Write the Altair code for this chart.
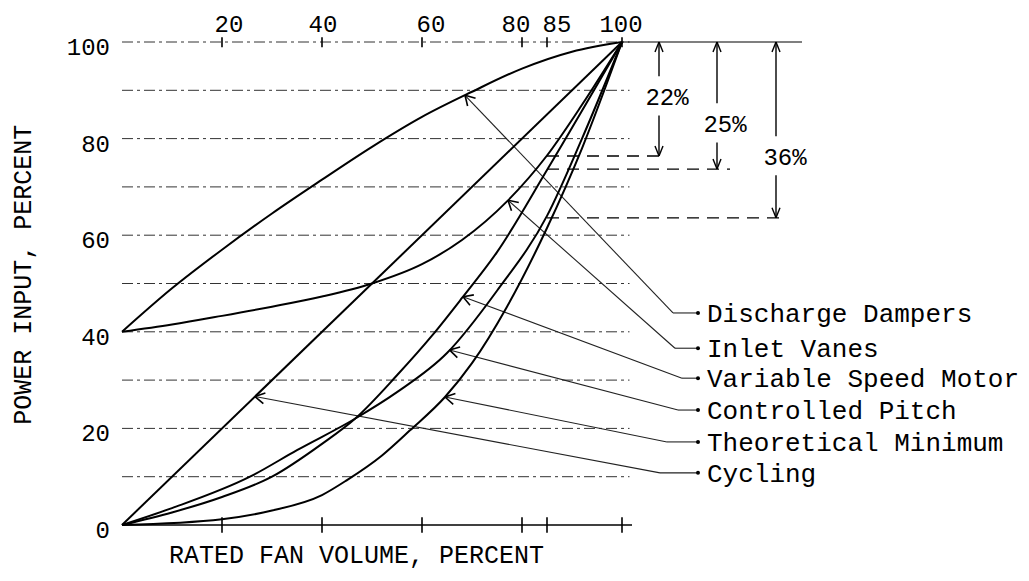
import math
import numpy as np
import pandas as pd
import altair as alt

# ---------------- data ----------------
series_names = ["Discharge Dampers", "Inlet Vanes", "Variable Speed Motor",
                "Controlled Pitch", "Theoretical Minimum", "Cycling"]

dd_x = [0, 10, 20, 30, 40, 50, 60, 70, 80, 90, 100]
dd_y = [40, 49, 57, 64.5, 71.5, 78.3, 84.5, 89.7, 94.5, 98, 100]

iv_x = [0, 10, 20, 30, 40, 50, 60, 68, 77, 85, 92, 100]
iv_y = [40, 41.5, 43.3, 45.2, 47.3, 50, 54, 59, 67, 76.5, 87, 100]

vs_x = [0, 10, 20, 30, 40, 46.6, 55, 62, 68, 75, 85, 100]
vs_y = [0, 2.6, 5.8, 10, 16.8, 22, 31, 39.2, 47, 56.5, 73.5, 100]

cp_x = [0, 10, 25.6, 35, 46.6, 55, 65, 75, 85, 92, 100]
cp_y = [0, 3.5, 10, 15.5, 22, 27.5, 35.6, 48.5, 64, 80, 100]

tm_x = [0, 20, 30, 40, 45, 52, 57.6, 64.6, 70, 77, 85, 92, 100]
tm_y = [0, 1.2, 3, 6.2, 9.3, 14.4, 19.6, 26.5, 33.5, 45.2, 61.5, 78, 100]

cy_x = [0, 100]
cy_y = [0, 100]

curves_x = [dd_x, iv_x, vs_x, cp_x, tm_x, cy_x]
curves_y = [dd_y, iv_y, vs_y, cp_y, tm_y, cy_y]

# arrow tips (x on each curve) and label rows
arrow_x = [68.6, 77.2, 68.2, 65.5, 64.6, 26.6]
label_y = [43.9, 36.6, 30.4, 23.8, 17.2, 10.8]
elbow_x = [110.2, 110.6, 112.0, 111.2, 109.0, 107.6]

x_ticks = [20, 40, 60, 80, 85, 100]
x_tick_shift_px = [7, 1, 9, -6, 10, -1]
y_ticks = [0, 20, 40, 60, 80, 100]
grid_vals = [10, 20, 30, 40, 50, 60, 70, 80, 90, 100]

pct_text = ["22%", "25%", "36%"]
pct_level = [76.4, 73.7, 63.6]
pct_line_x = [107.4, 119.0, 130.8]
pct_dash_end = [107.4, 121.6, 132.6]
pct_text_x = [109.0, 120.6, 132.6]
pct_text_y = [88.4, 82.8, 76.0]

# ---------------- geometry of the page ----------------
W, H = 1013, 565
X0, SX = 122, 5.0      # page px of x=0, px per unit
Y0, SY = 525, 4.83     # page px of y=0, px per unit
xdom = [(8 - X0) / SX, (8 + W - X0) / SX]
ydom = [(Y0 - (8 + H)) / SY, (Y0 - 8) / SY]
xs = alt.Scale(domain=xdom, nice=False, zero=False)
ys = alt.Scale(domain=ydom, nice=False, zero=False)
FONT = "Liberation Mono"

X = lambda f="x": alt.X(f"{f}:Q", scale=xs, axis=None)
Y = lambda f="y": alt.Y(f"{f}:Q", scale=ys, axis=None)

# curves
rows = []
for name, cx, cy in zip(series_names, curves_x, curves_y):
    for i, (a, b) in enumerate(zip(cx, cy)):
        rows.append({"series": name, "i": i, "x": a, "y": b})
curves_df = pd.DataFrame(rows)
curves = alt.Chart(curves_df).mark_line(
    interpolate="monotone", color="black", strokeWidth=2
).encode(x=X(), y=Y(), detail="series:N", order="i:Q")

# gridlines
grid_df = pd.DataFrame({"x": 0.0, "x2": 101.5, "y": grid_vals})
grid = alt.Chart(grid_df).mark_rule(
    color="#333", strokeWidth=1, strokeDash=[11, 4, 3, 4]
).encode(x=X(), x2="x2:Q", y=Y())

top_ext = alt.Chart(pd.DataFrame({"x": [100.0], "x2": [136.0], "y": [100.0]})).mark_rule(
    color="black", strokeWidth=1.2).encode(x=X(), x2="x2:Q", y=Y())
bottom_axis = alt.Chart(pd.DataFrame({"x": [0.0], "x2": [102.0], "y": [0.0]})).mark_rule(
    color="black", strokeWidth=1.4).encode(x=X(), x2="x2:Q", y=Y())

bt_df = pd.DataFrame({"x": x_ticks, "y": -1.6, "y2": 1.6})
bottom_ticks = alt.Chart(bt_df).mark_rule(color="black", strokeWidth=1.6).encode(
    x=X(), y=Y(), y2="y2:Q")
tt_df = pd.DataFrame({"x": x_ticks, "y": 98.9, "y2": 101.0})
top_ticks = alt.Chart(tt_df).mark_rule(color="black", strokeWidth=1.6).encode(
    x=X(), y=Y(), y2="y2:Q")

tl_df = pd.DataFrame({"x": [v + s / SX for v, s in zip(x_ticks, x_tick_shift_px)],
                      "y": 100.0, "t": [str(v) for v in x_ticks]})
top_labels = alt.Chart(tl_df).mark_text(
    font=FONT, fontSize=24, baseline="alphabetic", align="center", dy=-10, color="black"
).encode(x=X(), y=Y(), text="t:N")

yl_df = pd.DataFrame({"x": -2.4, "y": y_ticks, "t": [str(v) for v in y_ticks]})
y_labels = alt.Chart(yl_df).mark_text(
    font=FONT, fontSize=24, baseline="middle", align="right", dy=6, color="black"
).encode(x=X(), y=Y(), text="t:N")

ytitle = alt.Chart(pd.DataFrame({"x": [-19.8], "y": [51.8], "t": ["POWER INPUT, PERCENT"]})).mark_text(
    font=FONT, fontSize=25, angle=270, baseline="middle", align="center", color="black"
).encode(x=X(), y=Y(), text="t:N")
xtitle = alt.Chart(pd.DataFrame({"x": [46.9], "y": [-6.2], "t": ["RATED FAN VOLUME, PERCENT"]})).mark_text(
    font=FONT, fontSize=25, baseline="middle", align="center", color="black"
).encode(x=X(), y=Y(), text="t:N")

# leaders, arrowheads, dots, labels
DOT_X, TEXT_X = 115.2, 117.0
lead_rows, head_rows = [], []
for k, name in enumerate(series_names):
    tx = arrow_x[k]
    ty = float(np.interp(tx, curves_x[k], curves_y[k]))
    ex, ey = elbow_x[k], label_y[k]
    lead_rows.append({"x": tx, "y": ty, "x2": ex, "y2": ey})
    lead_rows.append({"x": ex, "y": ey, "x2": DOT_X, "y2": ey})
    dxp, dyp = (ex - tx) * SX, -(ey - ty) * SY
    n = math.hypot(dxp, dyp)
    ux, uy = dxp / n, dyp / n
    for s in (1, -1):
        a = math.radians(30 * s)
        rx = ux * math.cos(a) - uy * math.sin(a)
        ry = ux * math.sin(a) + uy * math.cos(a)
        head_rows.append({"x": tx, "y": ty, "x2": tx + rx * 11 / SX, "y2": ty - ry * 11 / SY})

leaders = alt.Chart(pd.DataFrame(lead_rows)).mark_rule(color="#222", strokeWidth=1.1).encode(
    x=X(), y=Y(), x2="x2:Q", y2="y2:Q")
heads = alt.Chart(pd.DataFrame(head_rows)).mark_rule(color="black", strokeWidth=1.6).encode(
    x=X(), y=Y(), x2="x2:Q", y2="y2:Q")
dots = alt.Chart(pd.DataFrame({"x": DOT_X, "y": label_y})).mark_circle(
    color="black", size=16, opacity=1).encode(x=X(), y=Y())
labels = alt.Chart(pd.DataFrame({"x": TEXT_X, "y": label_y, "t": series_names})).mark_text(
    font=FONT, fontSize=26, baseline="middle", align="left", dy=1, color="black"
).encode(x=X(), y=Y(), text="t:N")

# percent annotations
pdash = alt.Chart(pd.DataFrame({"x": 85.0, "x2": pct_dash_end, "y": pct_level})).mark_rule(
    color="black", strokeWidth=1.3, strokeDash=[12, 8]).encode(x=X(), x2="x2:Q", y=Y())
vrows, vhead = [], []
for lx, lv, tyv in zip(pct_line_x, pct_level, pct_text_y):
    vrows.append({"x": lx, "y": 100.0, "y2": tyv + 4.5})
    vrows.append({"x": lx, "y": tyv - 3.6, "y2": lv})
    for s in (1, -1):
        vhead.append({"x": lx, "y": 100.0, "x2": lx + s * 4 / SX, "y2": 100.0 - 10 / SY})
        vhead.append({"x": lx, "y": lv, "x2": lx + s * 4 / SX, "y2": lv + 10 / SY})
vlines = alt.Chart(pd.DataFrame(vrows)).mark_rule(color="black", strokeWidth=1.4).encode(
    x=X(), y=Y(), y2="y2:Q")
vheads = alt.Chart(pd.DataFrame(vhead)).mark_rule(color="black", strokeWidth=1.4).encode(
    x=X(), y=Y(), x2="x2:Q", y2="y2:Q")
ptext = alt.Chart(pd.DataFrame({"x": pct_text_x, "y": pct_text_y, "t": pct_text})).mark_text(
    font=FONT, fontSize=24, baseline="middle", align="center", color="black"
).encode(x=X(), y=Y(), text="t:N")

chart = alt.layer(
    grid, top_ext, bottom_axis, bottom_ticks, top_ticks, pdash, vlines, vheads,
    leaders, heads, dots, curves, top_labels, y_labels, ytitle, xtitle, labels, ptext
).properties(
    width=W, height=H, padding=0, background="white",
    autosize=alt.AutoSizeParams(type="none")
).configure_view(stroke=None)

chart.save("out.html", embed_options={"renderer": "svg", "actions": False})
